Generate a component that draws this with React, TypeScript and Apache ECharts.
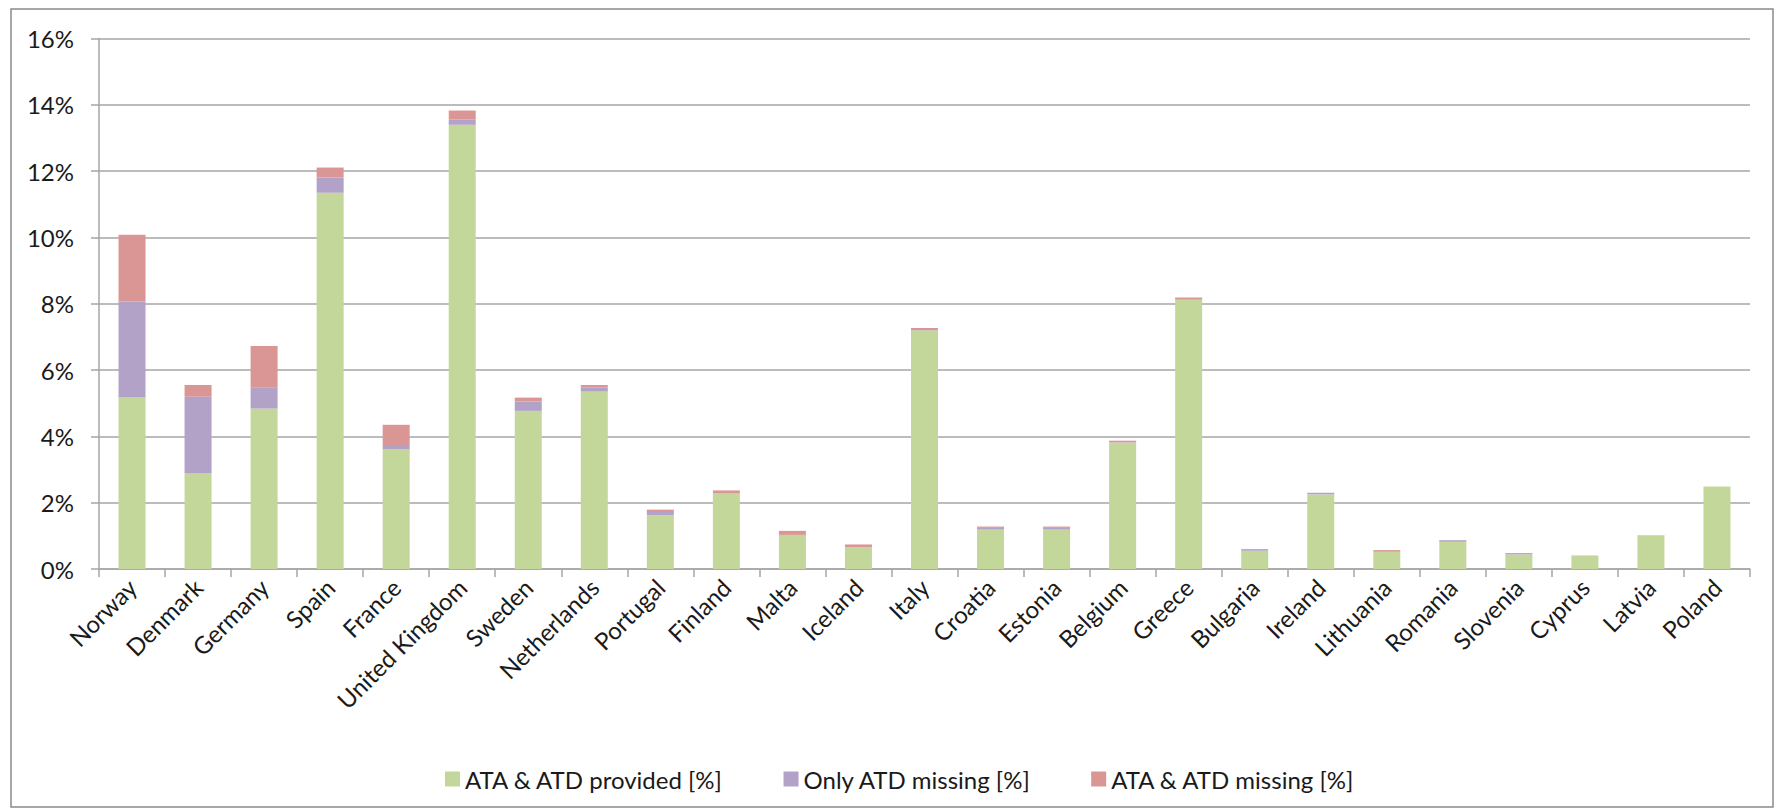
import React, { useEffect, useRef } from "react";
import * as echarts from "echarts";

const categories = [
  "Norway", "Denmark", "Germany", "Spain", "France", "United Kingdom", "Sweden",
  "Netherlands", "Portugal", "Finland", "Malta", "Iceland", "Italy", "Croatia",
  "Estonia", "Belgium", "Greece", "Bulgaria", "Ireland", "Lithuania", "Romania",
  "Slovenia", "Cyprus", "Latvia", "Poland",
];

const provided = [
  5.17, 2.88, 4.84, 11.35, 3.61, 13.4, 4.77, 5.35, 1.63, 2.29, 1.01, 0.66, 7.2,
  1.19, 1.19, 3.81, 8.12, 0.55, 2.25, 0.52, 0.82, 0.44, 0.41, 1.02, 2.49,
];

const onlyAtdMissing = [
  2.9, 2.32, 0.63, 0.46, 0.1, 0.16, 0.28, 0.12, 0.09, 0.0, 0.02, 0.0, 0.04,
  0.05, 0.05, 0.01, 0.02, 0.05, 0.05, 0.0, 0.05, 0.04, 0.0, 0.0, 0.0,
];

const bothMissing = [
  2.01, 0.35, 1.26, 0.3, 0.64, 0.27, 0.12, 0.08, 0.07, 0.08, 0.12, 0.08, 0.03,
  0.04, 0.04, 0.05, 0.05, 0.0, 0.0, 0.05, 0.0, 0.0, 0.0, 0.0, 0.0,
];

const seriesNames = ["ATA & ATD provided [%]", "Only ATD missing [%]", "ATA & ATD missing [%]"];
const seriesColors = ["#C4D79B", "#B3A2C7", "#D99694"];

const FONT = "Lato, 'Open Sans', sans-serif";

export default function App() {
  const ref = useRef<HTMLDivElement>(null);

  useEffect(() => {
    if (!ref.current) return;
    const chart = echarts.init(ref.current, undefined, { renderer: "svg" });
    const values = [provided, onlyAtdMissing, bothMissing];
    chart.setOption({
      animation: false,
      backgroundColor: "#ffffff",
      textStyle: { fontFamily: FONT },
      graphic: [
        {
          type: "rect",
          shape: { x: 11, y: 9, width: 1762, height: 798 },
          style: { fill: "none", stroke: "#8a8a8a", lineWidth: 1.5 },
          silent: true,
        },
      ],
      grid: { left: 99, right: 26, top: 38.6, bottom: 242, containLabel: false },
      legend: {
        data: seriesNames,
        left: 440,
        top: 762,
        icon: "rect",
        itemWidth: 15,
        itemHeight: 15,
        itemGap: 60,
        textStyle: { fontFamily: FONT, fontSize: 24, color: "#1a1a1a" },
      },
      xAxis: {
        type: "category",
        data: categories,
        axisLine: { show: true, lineStyle: { color: "#a6a6a6", width: 1.5 } },
        axisTick: { show: true, alignWithLabel: false, length: 8, lineStyle: { color: "#a6a6a6", width: 1.5 } },
        axisLabel: {
          rotate: 45,
          interval: 0,
          margin: 14,
          fontFamily: FONT,
          fontSize: 24,
          color: "#1a1a1a",
        },
        splitLine: { show: false },
      },
      yAxis: {
        type: "value",
        min: 0,
        max: 16,
        interval: 2,
        axisLine: { show: true, lineStyle: { color: "#a6a6a6", width: 1.5 } },
        axisTick: { show: true, length: 8, lineStyle: { color: "#a6a6a6", width: 1.5 } },
        axisLabel: {
          formatter: "{value}%",
          margin: 25,
          fontFamily: FONT,
          fontSize: 24,
          color: "#1a1a1a",
        },
        splitLine: { show: true, lineStyle: { color: "#a6a6a6", width: 1.5 } },
      },
      series: seriesNames.map((name, i) => ({
        name,
        type: "bar",
        stack: "total",
        barWidth: 27,
        data: values[i],
        itemStyle: { color: seriesColors[i] },
        emphasis: { disabled: true },
      })),
    });
    return () => chart.dispose();
  }, []);

  return (
    <div
      ref={ref}
      style={{ position: "absolute", left: 0, top: 0, width: 1776, height: 811 }}
    />
  );
}
